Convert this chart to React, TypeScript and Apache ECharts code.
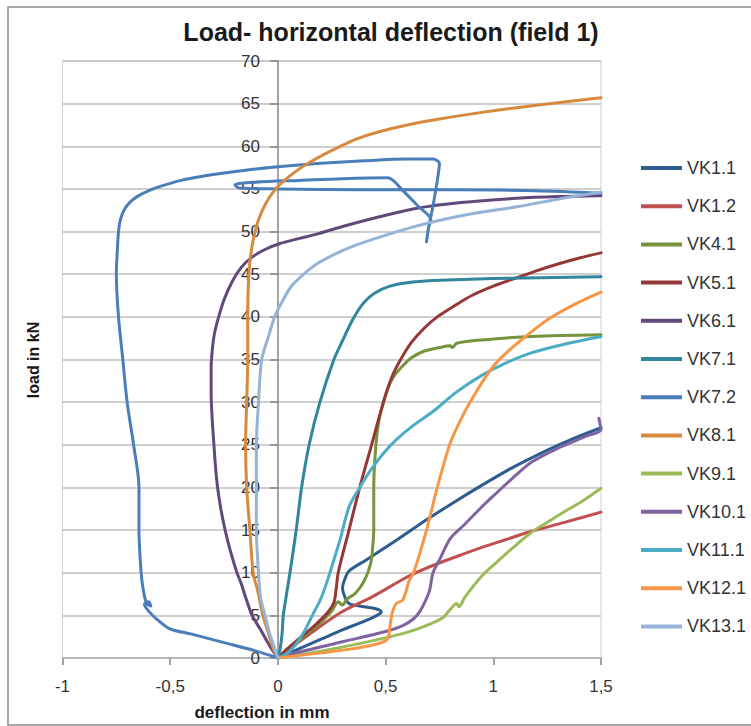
import React, { useEffect, useRef } from "react";
import * as echarts from "echarts";

const FONT = "'Liberation Sans', Arial, sans-serif";

const seriesNames = [
  "VK1.1", "VK1.2", "VK4.1", "VK5.1", "VK6.1", "VK7.1", "VK7.2",
  "VK8.1", "VK9.1", "VK10.1", "VK11.1", "VK12.1", "VK13.1",
];

const seriesColors = [
  "#2F5C8F", "#C0504D", "#77933C", "#953735", "#604A7B", "#31859C", "#4A7EBB",
  "#D68A3E", "#9BBB59", "#8064A2", "#4BACC6", "#F79646", "#95B3D7",
];

const xTicks = [-1, -0.5, 0, 0.5, 1, 1.5];
const yTicks = [0, 5, 10, 15, 20, 25, 30, 35, 40, 45, 50, 55, 60, 65, 70];

const vk1_1 = [[0,0],[0.1,1.1],[0.2,2.2],[0.3,3.3],[0.4,4.3],[0.46,5.0],[0.48,5.4],[0.45,5.8],[0.38,6.1],[0.33,6.4],[0.31,7.2],[0.30,8.2],[0.31,9.2],[0.33,10.2],[0.41,11.5],[0.55,13.8],[0.69,16.2],[0.82,18.3],[0.95,20.3],[1.08,22.2],[1.22,24],[1.36,25.6],[1.5,27]];
const vk1_2 = [[0,0],[0.05,1],[0.13,2.5],[0.29,5.3],[0.44,7.2],[0.6,9.5],[0.705,10.7],[0.83,11.9],[0.95,13],[1.06,13.9],[1.17,14.8],[1.33,15.9],[1.5,17.1]];
const vk4_1 = [[0,0],[0.05,1],[0.12,2.5],[0.2,4.2],[0.25,5.5],[0.28,6.6],[0.30,6.2],[0.32,6.9],[0.36,7.6],[0.40,9],[0.43,11],[0.44,13],[0.445,15],[0.445,20],[0.455,25],[0.47,28],[0.49,30],[0.51,31.6],[0.535,32.9],[0.57,34],[0.62,35.2],[0.68,36],[0.75,36.4],[0.8,36.6],[0.81,36.4],[0.83,36.9],[0.95,37.3],[1.18,37.7],[1.5,37.9]];
const vk5_1 = [[0,0],[0.04,1],[0.1,2.3],[0.17,3.8],[0.23,5.3],[0.26,6.5],[0.27,8],[0.28,10],[0.33,15],[0.38,20],[0.435,25],[0.49,30],[0.53,33],[0.57,35],[0.62,37],[0.68,38.7],[0.74,40],[0.82,41.3],[0.9,42.5],[1.0,43.6],[1.11,44.6],[1.2,45.4],[1.3,46.2],[1.4,46.9],[1.5,47.5]];
const vk6_1 = [[0,0],[-0.04,1.5],[-0.08,3.3],[-0.12,5],[-0.14,6.4],[-0.155,7.5],[-0.17,8.7],[-0.19,10],[-0.22,12.5],[-0.245,15],[-0.265,17.5],[-0.28,20],[-0.29,22.5],[-0.297,25],[-0.305,28],[-0.31,31],[-0.31,34],[-0.305,36],[-0.295,38],[-0.275,40],[-0.25,42],[-0.215,44],[-0.17,45.8],[-0.12,47],[-0.06,47.9],[0.01,48.6],[0.1,49.2],[0.18,49.7],[0.3,50.6],[0.45,51.6],[0.64,52.7],[0.85,53.4],[1.11,53.9],[1.3,54.1],[1.5,54.2]];
const vk7_1 = [[0,0],[0.01,1],[0.02,3],[0.025,5],[0.056,10],[0.085,15],[0.11,20],[0.145,25],[0.195,30],[0.26,35],[0.30,37.2],[0.35,39.8],[0.40,41.7],[0.45,42.8],[0.52,43.6],[0.6,44],[0.72,44.25],[1.0,44.5],[1.5,44.7]];
const vk7_2 = [[0,0],[-0.1,0.8],[-0.25,1.8],[-0.4,2.8],[-0.5,3.4],[-0.56,4.5],[-0.6,5.5],[-0.62,6.3],[-0.6,6.6],[-0.59,6.1],[-0.61,6.4],[-0.625,8],[-0.635,10],[-0.645,15],[-0.645,20],[-0.67,25],[-0.70,30],[-0.72,35],[-0.74,40],[-0.75,45],[-0.745,48],[-0.74,50],[-0.73,51.5],[-0.71,52.7],[-0.68,53.6],[-0.64,54.3],[-0.59,54.9],[-0.52,55.5],[-0.45,56],[-0.37,56.4],[-0.3,56.7],[-0.15,57.2],[0,57.6],[0.2,58],[0.4,58.3],[0.6,58.5],[0.72,58.5],[0.75,58],[0.74,56],[0.72,53],[0.70,50.5],[0.69,48.8],[0.70,50.5],[0.71,51.4],[0.65,53],[0.58,54.8],[0.51,56.3],[0.3,56.2],[0.1,56],[-0.1,55.8],[-0.2,55.5],[-0.18,55.1],[0,55],[0.4,54.9],[0.8,54.9],[1.2,54.8],[1.5,54.5]];
const vk8_1 = [[0,0],[-0.02,1],[-0.045,3],[-0.07,5],[-0.095,8],[-0.115,10],[-0.13,15],[-0.145,20],[-0.15,25],[-0.145,30],[-0.14,35],[-0.14,40],[-0.137,44],[-0.13,46.5],[-0.115,49],[-0.095,51],[-0.07,52.6],[-0.04,54],[-0.01,55],[0.03,56],[0.08,57],[0.14,58],[0.21,59],[0.29,60],[0.37,60.9],[0.47,61.7],[0.6,62.5],[0.75,63.2],[0.9,63.8],[1.1,64.5],[1.3,65.1],[1.5,65.7]];
const vk9_1 = [[0,0],[0.2,0.8],[0.4,1.8],[0.6,3.0],[0.7,3.9],[0.77,4.8],[0.8,5.7],[0.83,6.4],[0.84,6.0],[0.87,7.2],[0.95,9.7],[1.01,11.1],[1.09,12.9],[1.17,14.6],[1.25,15.9],[1.32,17],[1.42,18.5],[1.5,19.9]];
const vk10_1 = [[0,0],[0.1,0.7],[0.3,1.9],[0.5,3.1],[0.58,3.8],[0.63,4.6],[0.66,5.5],[0.69,7],[0.705,8],[0.72,10],[0.75,11.5],[0.8,14],[0.86,15.5],[0.93,17.3],[1.0,19],[1.09,21.1],[1.18,23],[1.3,24.6],[1.42,25.9],[1.5,26.8],[1.495,27.5],[1.49,28.1]];
const vk11_1 = [[0,0],[0.04,0.5],[0.08,1.5],[0.12,3],[0.16,5],[0.2,7],[0.23,9.1],[0.255,11.1],[0.29,14],[0.33,17.7],[0.38,20],[0.43,22],[0.49,24],[0.55,25.6],[0.63,27.3],[0.72,28.9],[0.83,31.2],[0.95,33.2],[1.05,34.5],[1.18,35.8],[1.35,36.9],[1.5,37.7]];
const vk12_1 = [[0,0],[0.2,0.6],[0.35,1.1],[0.47,1.7],[0.51,2.3],[0.52,3.7],[0.53,5.2],[0.55,6.4],[0.58,6.8],[0.61,9.1],[0.63,10],[0.69,15],[0.74,20],[0.80,25.2],[0.85,28],[0.89,29.9],[0.95,32.4],[1.0,34.2],[1.07,36],[1.15,37.7],[1.26,39.8],[1.38,41.5],[1.5,42.9]];
const vk13_1 = [[0,0],[-0.02,1.5],[-0.04,3],[-0.06,5],[-0.08,7],[-0.09,10],[-0.10,15],[-0.10,20],[-0.10,25],[-0.09,30],[-0.075,35],[-0.04,38],[-0.015,40],[0.02,41.8],[0.06,43.5],[0.12,45],[0.18,46.2],[0.26,47.3],[0.35,48.3],[0.49,49.5],[0.65,50.7],[0.80,51.6],[0.95,52.3],[1.11,52.9],[1.3,53.8],[1.5,54.6]];

const seriesData = [vk1_1, vk1_2, vk4_1, vk5_1, vk6_1, vk7_1, vk7_2, vk8_1, vk9_1, vk10_1, vk11_1, vk12_1, vk13_1];

export default function App() {
  const ref = useRef<HTMLDivElement>(null);
  useEffect(() => {
    if (!ref.current) return;
    const chart = echarts.init(ref.current, undefined, { renderer: "svg" });
    chart.setOption({
      animation: false,
      backgroundColor: "#ffffff",
      title: {
        text: "Load- horizontal deflection (field 1)",
        left: 386,
        top: 14,
        textAlign: "center",
        textStyle: { fontFamily: FONT, fontSize: 25, fontWeight: "bold", color: "#1a1a1a" },
      },
      grid: {
        left: 62.5, right: 150, top: 61, bottom: 68,
        show: true, borderColor: "#D0D0D0", borderWidth: 1,
      },
      legend: {
        orient: "vertical",
        left: 636,
        top: 153,
        itemWidth: 41,
        itemHeight: 4,
        itemGap: 18.2,
        icon: "rect",
        data: seriesNames,
        textStyle: { fontFamily: FONT, fontSize: 18, color: "#333333", lineHeight: 20 },
      },
      xAxis: {
        type: "value",
        min: xTicks[0],
        max: xTicks[xTicks.length - 1],
        interval: 0.5,
        splitLine: { show: false },
        axisLine: { lineStyle: { color: "#868686", width: 1.5 } },
        axisTick: { show: true, length: 7, lineStyle: { color: "#868686", width: 1.5 } },
        axisLabel: {
          fontFamily: FONT, fontSize: 17, color: "#333333", margin: 20,
          formatter: (v: number) => String(v).replace(".", ","),
        },
      },
      yAxis: {
        type: "value",
        position: "left",
        offset: -215.5,
        z: 3,
        min: yTicks[0],
        max: yTicks[yTicks.length - 1],
        interval: 5,
        axisLine: { show: true, onZero: false, lineStyle: { color: "#868686", width: 1.5 } },
        axisTick: { show: true, length: 8, lineStyle: { color: "#868686", width: 1.5 } },
        axisLabel: { fontFamily: FONT, fontSize: 17, color: "#333333", margin: 18 },
        splitLine: { lineStyle: { color: "#BFBFBF", width: 1.5 } },
      },
      graphic: [
        {
          type: "rect", silent: true, z: -10,
          shape: { x: 8, y: 7, width: 800, height: 718 },
          style: { fill: "none", stroke: "#8A8A8A", lineWidth: 1.5 },
        },
        {
          type: "text", x: 262, y: 712,
          style: { text: "deflection in mm", fontFamily: FONT, fontSize: 17, fontWeight: "bold", fill: "#1a1a1a", align: "center", verticalAlign: "middle" },
        },
        {
          type: "text", x: 33, y: 360, rotation: Math.PI / 2,
          style: { text: "load in kN", fontFamily: FONT, fontSize: 16, fontWeight: "bold", fill: "#1a1a1a", align: "center", verticalAlign: "middle" },
        },
      ],
      series: seriesNames.map((name, i) => ({
        name,
        type: "line",
        data: seriesData[i],
        showSymbol: false,
        symbol: "none",
        smooth: 0.3,
        color: seriesColors[i],
        lineStyle: { width: 3, color: seriesColors[i], cap: "round", join: "round" },
      })),
    });
    return () => chart.dispose();
  }, []);
  return <div ref={ref} style={{ position: "absolute", left: 0, top: 0, width: 751, height: 726 }} />;
}
